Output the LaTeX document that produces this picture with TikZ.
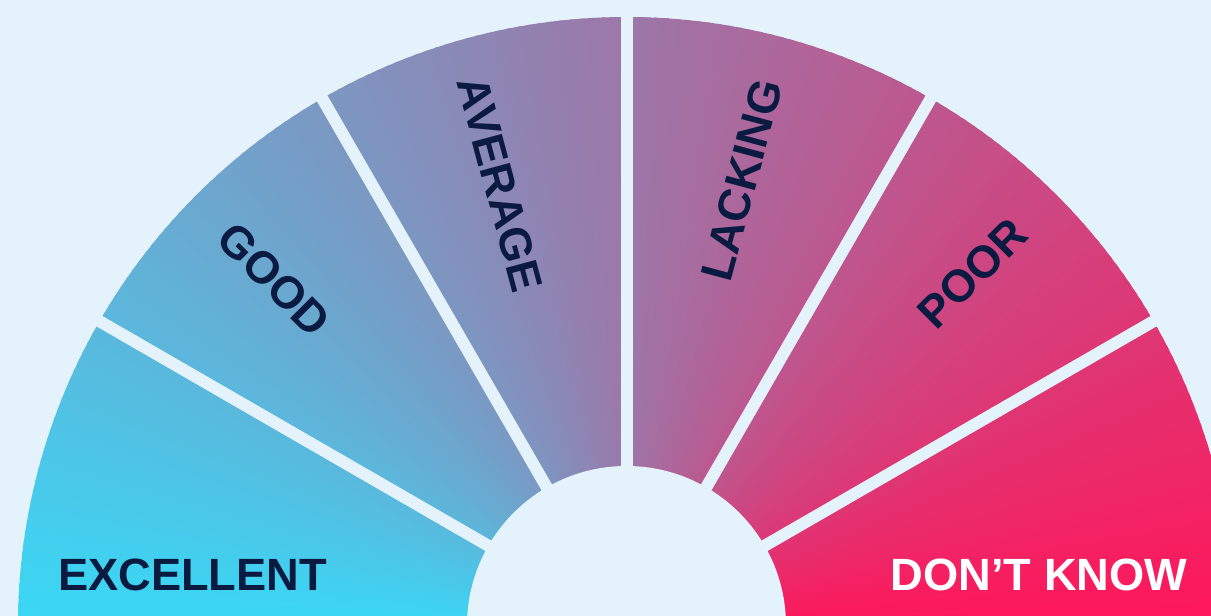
\documentclass[tikz,border=0pt]{standalone}
\usepackage{fontspec}
\setmainfont{Liberation Sans}
\usetikzlibrary{calc}

\definecolor{paper}{HTML}{E4F2FC}
\definecolor{ink}{HTML}{0B1A40}
\definecolor{coolend}{HTML}{3AD8F6}
\definecolor{hotend}{HTML}{FF165A}

\tikzset{
  gap/.style={paper, line width=6pt},
  rating/.style={font=\bfseries\fontsize{22.6}{25}\selectfont, text=ink, inner sep=0pt},
}

\begin{document}
\begin{tikzpicture}[x=0.5pt, y=0.5pt]
      \fill [paper] (0,0) rectangle (1211,616);
      \useasboundingbox (0,0) rectangle (1211,616);
      \clip (0,0) rectangle (1211,616);
      \coordinate (hub) at (626.5,-9.5);
      % colour wheel, one thin wedge per degree
      \foreach \a in {0,...,179} {
        \pgfmathsetmacro\p{(\a+0.5)/180*100}
        \colorlet{wedge}{coolend!\p!hotend}
        \fill [wedge] (hub) -- ++(\a:608.5) arc [start angle=\a, end angle=\a+1.4, radius=608.5] -- cycle;
      }
      \foreach \a in {30,60,90,120,150}
        \draw [gap] (hub) -- ++(\a:640);
      \fill [paper] (hub) circle [radius=159.5];
      % labels
      \node [rating] (excellent) at (192.5,41) {EXCELLENT};
      \node [rating, rotate=-45] (good) at ($(hub)+(135.5:494)$) {GOOD};
      \node [rating, rotate=-75] (average) at ($(hub)+(106:459)$) {AVERAGE};
      \node [rating, rotate=75] (lacking) at ($(hub)+(75.5:460)$) {LACKING};
      \node [rating, rotate=45] (poor) at ($(hub)+(45.5:494)$) {POOR};
      \node [rating, text=white] (dontknow) at (1039,41) {DON’T KNOW};
\end{tikzpicture}
\end{document}
